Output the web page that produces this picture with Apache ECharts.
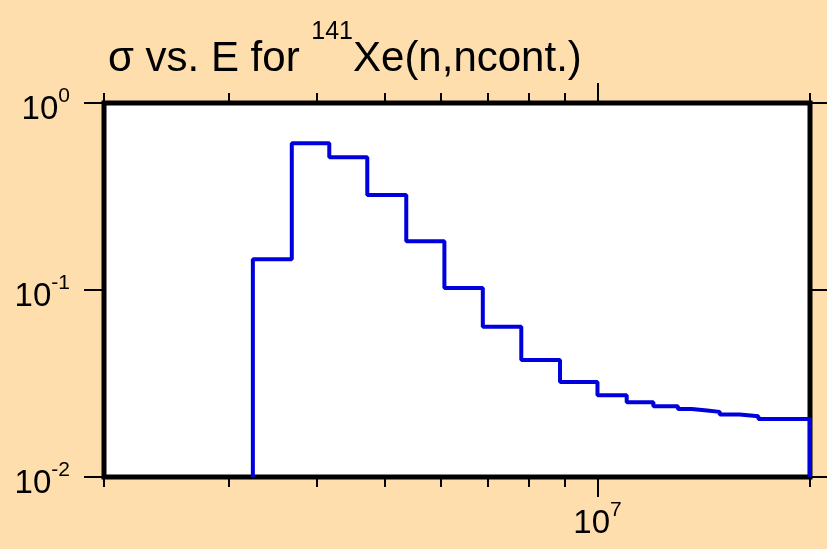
<!DOCTYPE html>
<html>
<head>
<meta charset="utf-8">
<script src="https://cdn.jsdelivr.net/npm/echarts@6/dist/echarts.min.js"></script>
<style>
html,body{margin:0;padding:0;background:#FFDEAD;}
#chart{width:827px;height:549px;}
</style>
</head>
<body>
<div id="chart"></div>
<script>
// Bin edges (eV) and cross sections (b) of the step histogram
const binEdges = [3.25e6, 3.69e6, 4.17e6, 4.72e6, 5.36e6, 6.07e6, 6.88e6, 7.8e6, 8.85e6, 1.0e7, 1.1e7, 1.2e7, 1.3e7, 1.36e7, 1.43e7, 1.49e7, 1.59e7, 1.69e7, 2.0e7];
const sigma = [0.146, 0.609, 0.513, 0.322, 0.182, 0.1025, 0.0636, 0.0422, 0.0322, 0.0274, 0.0251, 0.0239, 0.0231, 0.0227, 0.0223, 0.0216, 0.0211, 0.0204];
const xMinorTicks = [2e6, 3e6, 4e6, 5e6, 6e6, 7e6, 8e6, 9e6, 2e7];
const xMajorTicks = [1e7];
const xRange = [2e6, 2e7];
const yRange = [0.01, 1];
const titleParts = ['σ vs. E for ', '141', 'Xe(n,ncont.)'];

const FONT = "'Liberation Sans', Arial, sans-serif";

const data = [[binEdges[0], yRange[0]]];
for (let i = 0; i < sigma.length; i++) data.push([binEdges[i], sigma[i]]);
data.push([binEdges[binEdges.length - 1], yRange[0]]);

function powLabel(v) {
  const e = Math.round(Math.log10(v));
  return '{b|10}{s|' + e + '}';
}
const labelRich = {
  b: { fontFamily: FONT, fontSize: 33, color: '#000', lineHeight: 40, verticalAlign: 'bottom' },
  s: { fontFamily: FONT, fontSize: 21, color: '#000', lineHeight: 22, verticalAlign: 'top' }
};

function xAx(pos, ticks, len, label) {
  return {
    type: 'log', logBase: 10, min: xRange[0], max: xRange[1], position: pos,
    axisLine: { show: false },
    splitLine: { show: false },
    axisTick: { show: true, customValues: ticks, length: len, lineStyle: { color: '#000', width: 2 } },
    axisLabel: label ? { show: true, customValues: ticks, formatter: powLabel, margin: 23, rich: labelRich } : { show: false }
  };
}
function yAx(pos, label) {
  return {
    type: 'log', logBase: 10, min: yRange[0], max: yRange[1], position: pos,
    axisLine: { show: false },
    splitLine: { show: false },
    axisTick: { show: true, length: 20, lineStyle: { color: '#000', width: 2 } },
    axisLabel: label ? { show: true, formatter: powLabel, margin: 34, padding: [6, 0, 0, 0], rich: labelRich } : { show: false }
  };
}

const chart = echarts.init(document.getElementById('chart'), null, { renderer: 'canvas' });
chart.setOption({
  backgroundColor: '#FFDEAD',
  animation: false,
  title: {
    text: '{n|' + titleParts[0] + '}{s|' + titleParts[1] + '}{n|' + titleParts[2] + '}',
    left: 108, top: 20, padding: 0,
    textStyle: {
      fontWeight: 'normal',
      rich: {
        n: { fontFamily: FONT, fontSize: 42, fontWeight: 'normal', color: '#000', lineHeight: 60, verticalAlign: 'bottom' },
        s: { fontFamily: FONT, fontSize: 25, fontWeight: 'normal', color: '#000', lineHeight: 25, verticalAlign: 'top' }
      }
    }
  },
  grid: {
    left: 104, right: 17, top: 103, bottom: 72,
    show: true, backgroundColor: '#fff', borderColor: '#000', borderWidth: 5,
    containLabel: false
  },
  xAxis: [
    xAx('bottom', xMinorTicks, 10, false),
    xAx('bottom', xMajorTicks, 20, true),
    xAx('top', xMinorTicks, 10, false),
    xAx('top', xMajorTicks, 20, false)
  ],
  yAxis: [yAx('left', true), yAx('right', false)],
  series: [{
    type: 'line', xAxisIndex: 0, yAxisIndex: 0,
    step: 'end', data: data, showSymbol: false, symbol: 'none',
    lineStyle: { color: '#0000DD', width: 4 },
    clip: false
  }]
});
</script>
</body>
</html>
